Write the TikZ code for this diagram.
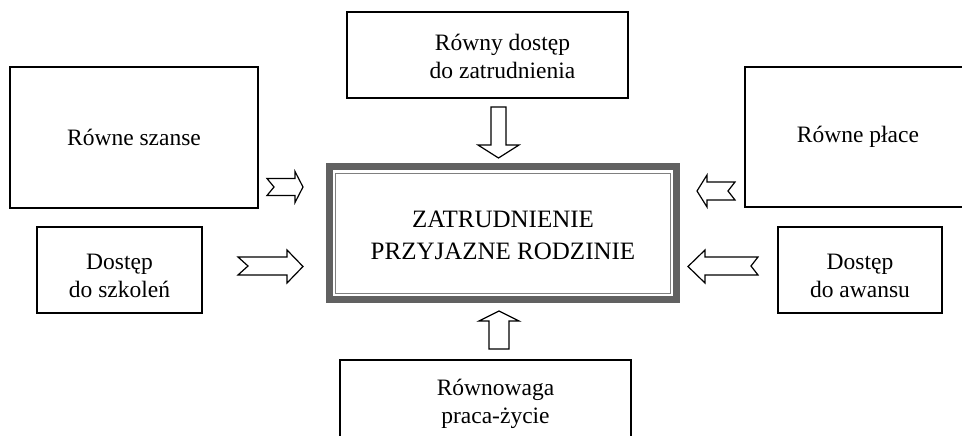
\documentclass[tikz,border=0pt]{standalone}
\usepackage{fontspec}
\setmainfont{Liberation Serif}
\begin{document}
\begin{tikzpicture}[x=1pt,y=-1pt,
	box/.style={draw,line width=1.4pt,inner sep=0pt},
	boxtext/.style={align=center,inner sep=0pt,font=\fontsize{23.5}{28}\selectfont},
	blockarrow/.style={draw,line width=1.2pt,line join=miter,fill=white}]
	\useasboundingbox (0,0) rectangle (962,436);
	\clip (0,0) rectangle (962,436);

	%outer boxes
	\node[box,minimum width=281pt,minimum height=86pt] (dostep) at (487.5,55) {};
	\node[box,minimum width=248pt,minimum height=141pt] (szanse) at (134,137.5) {};
	\node[box,minimum width=165pt,minimum height=86pt] (szkolenia) at (119.5,270) {};
	\node[box,minimum width=226pt,minimum height=140pt] (place) at (858,137) {};
	\node[box,minimum width=164pt,minimum height=86pt] (awans) at (860,270) {};
	\node[box,minimum width=291pt,minimum height=80pt] (rownowaga) at (485.5,400) {};

	%labels
	\node[boxtext,xshift=15pt,yshift=-1pt] (dosteplabel) at (dostep) {Równy dostęp\\do zatrudnienia};
	\node[boxtext] (szanselabel) at (szanse) {Równe szanse};
	\node[boxtext,yshift=-6pt] (szkolenialabel) at (szkolenia) {Dostęp\\do szkoleń};
	\node[boxtext] (placelabel) at (place) {Równe płace};
	\node[boxtext,yshift=-6pt] (awanslabel) at (awans) {Dostęp\\do awansu};
	\node[boxtext,xshift=10pt,yshift=-4pt] (rownowagalabel) at (rownowaga) {Równowaga\\praca-życie};

	%central box
	\draw[line width=7pt,color=black!62] (329.5,166.5) rectangle (676.5,299.5); %thick frame
	\draw[line width=1pt,color=black!50] (335.5,173.5) rectangle (670.5,293.5); %thin frame
	\node[align=center,font=\fontsize{25}{32}\selectfont] (rodzina) at (503,235) {ZATRUDNIENIE\\PRZYJAZNE RODZINIE};

	%arrows
	\draw[blockarrow] (491,107) -- (506,107) -- (506,145) -- (519,145) -- (498.5,158)
	  -- (478,145) -- (491,145) -- cycle; %top arrow
	\draw[blockarrow] (489,349) -- (509,349) -- (509,321) -- (519,321) -- (499,311)
	  -- (479,321) -- (489,321) -- cycle; %bottom arrow
	\draw[blockarrow] (267,178.5) -- (295,178.5) -- (295,171.5) -- (303,187) -- (295,202.5)
	  -- (295,195.5) -- (267,195.5) -- (274,187) -- cycle; %szanse arrow
	\draw[blockarrow] (238,257) -- (287,257) -- (287,250) -- (303,266.5) -- (287,283)
	  -- (287,275) -- (238,275) -- (248,266) -- cycle; %szkolenia arrow
	\draw[blockarrow] (735,182) -- (707,182) -- (707,175) -- (697,191) -- (707,207)
	  -- (707,200) -- (735,200) -- (728,191) -- cycle; %place arrow
	\draw[blockarrow] (758,257) -- (705,257) -- (705,250) -- (688,266.5) -- (705,283)
	  -- (705,275) -- (758,275) -- (751,266) -- cycle; %awans arrow
\end{tikzpicture}
\end{document}
